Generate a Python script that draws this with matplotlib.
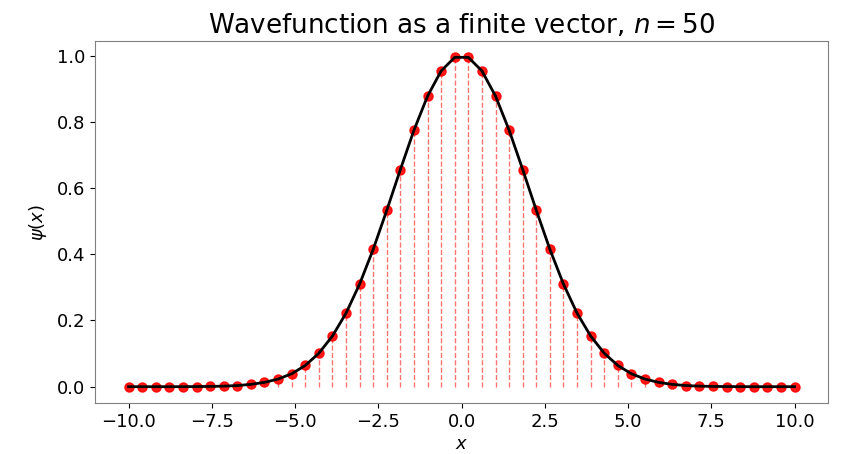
import numpy as np
import matplotlib
matplotlib.use("Agg")
import matplotlib.pyplot as plt

# sample grid (50 evenly spaced points on [-10, 10])
n_points = 50
x_min, x_max = -10.0, 10.0

# psi values for the right half (x >= 0); the left half mirrors it
psi_right = [0.995, 0.954, 0.878, 0.775, 0.656, 0.533, 0.415, 0.310, 0.222, 0.153,
             0.101, 0.064, 0.039, 0.023, 0.013, 0.007, 0.0034, 0.0017, 0.0008, 0.0004,
             0.0001, 0.0, 0.0, 0.0, 0.0]

x = np.linspace(x_min, x_max, n_points)
psi = np.array(psi_right[::-1] + psi_right)

fig, ax = plt.subplots(figsize=(8.43, 4.54), dpi=100)
fig.subplots_adjust(left=0.113, right=0.982, top=0.91, bottom=0.112)

# dashed stems down to zero
ax.vlines(x, 0, psi, colors='red', linestyles='--', linewidth=1.0, alpha=0.55, zorder=1)
# sampled points
ax.plot(x, psi, 'o', color='red', markersize=6.5, alpha=0.9, zorder=2)
# wavefunction
ax.plot(x, psi, color='black', linewidth=2, zorder=3)

ax.set_title('Wavefunction as a finite vector, $n = 50$', fontsize=18.8)
ax.set_xlabel('$x$', fontsize=13, labelpad=3)
ax.set_ylabel(r'$\psi(x)$', fontsize=13, labelpad=6)
ax.tick_params(labelsize=13)
ax.set_xticks(np.arange(-10, 10.1, 2.5))

for s in ax.spines.values():
    s.set_color('#808080')

fig.savefig('out.png', dpi=100)
